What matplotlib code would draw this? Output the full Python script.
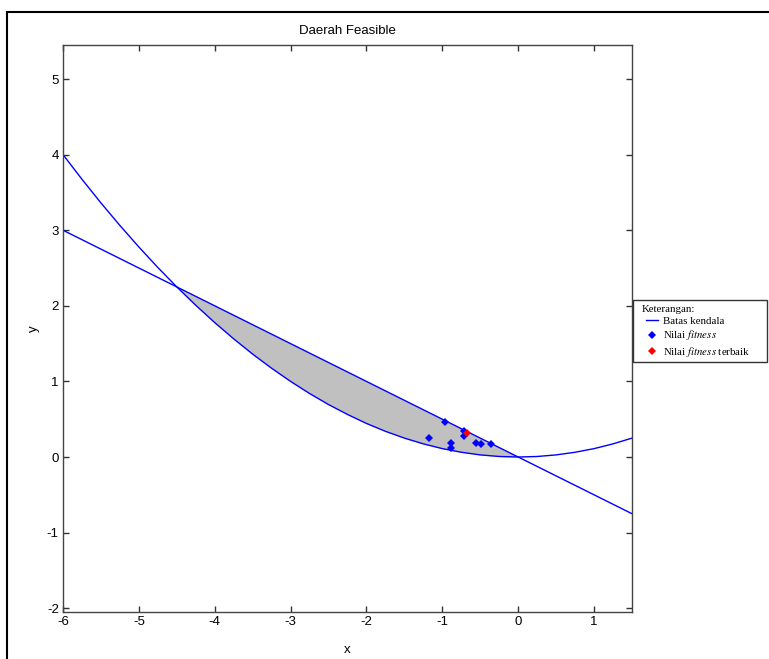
import numpy as np
import matplotlib
matplotlib.use("Agg")
import matplotlib.pyplot as plt
from matplotlib.patches import Rectangle

# Constraint boundary curve (parabola)
curve_x = [-6.0, -5.75, -5.5, -5.25, -5.0, -4.75, -4.5, -4.25, -4.0, -3.75, -3.5,
           -3.25, -3.0, -2.75, -2.5, -2.25, -2.0, -1.75, -1.5, -1.25, -1.0,
           -0.75, -0.5, -0.25, 0.0, 0.25, 0.5, 0.75, 1.0, 1.25, 1.5]
curve_y = [4.000, 3.674, 3.361, 3.063, 2.778, 2.507, 2.250, 2.007, 1.778, 1.563, 1.361,
           1.174, 1.000, 0.840, 0.694, 0.563, 0.444, 0.340, 0.250, 0.174, 0.111,
           0.063, 0.028, 0.007, 0.000, 0.007, 0.028, 0.063, 0.111, 0.174, 0.250]
# Constraint boundary line
line_x = [-6.0, 1.5]
line_y = [3.0, -0.75]

# Fitness points
pts_x = [-0.97, -1.17, -0.71, -0.72, -0.88, -0.89, -0.55, -0.49, -0.36]
pts_y = [0.46, 0.25, 0.34, 0.28, 0.18, 0.12, 0.18, 0.17, 0.17]
best_x = [-0.68]
best_y = [0.32]

title = "Daerah Feasible"
legend_title = "Keterangan:"
legend_labels = ['Batas kendala', 'Nilai $\\mathit{fitness}$', 'Nilai $\\mathit{fitness}$ terbaik']
xticks = [-6, -5, -4, -3, -2, -1, 0, 1]
yticks = [-2, -1, 0, 1, 2, 3, 4, 5]

plt.rcParams['font.family'] = ['Liberation Sans', 'DejaVu Sans']
plt.rcParams['mathtext.fontset'] = 'stix'
plt.rcParams['axes.unicode_minus'] = False

W, H = 769, 659
fig = plt.figure(figsize=(W / 100, H / 100), dpi=100)
ax = fig.add_axes([63 / W, (H - 612) / H, (632 - 63) / W, (612 - 45) / H])

cx = np.array(curve_x)
cy = np.array(curve_y)
ly = np.interp(cx, line_x, line_y)
ax.fill_between(cx, cy, ly, where=ly >= cy, interpolate=True,
                color='#c0c0c0', linewidth=0, zorder=1)

lb, = ax.plot(curve_x, curve_y, color='#0000ff', lw=1.0, zorder=2)
ax.plot(line_x, line_y, color='#0000ff', lw=1.0, zorder=2)
pb, = ax.plot(pts_x, pts_y, 'D', color='#0000ff', ms=3.8, mew=0, zorder=3, linestyle='none')
pr, = ax.plot(best_x, best_y, 'D', color='#ff0000', ms=4.2, mew=0, zorder=4, linestyle='none')

ax.set_xlim(-6, 1.5)
ax.set_ylim(-2.05, 5.45)
ax.set_xticks(xticks)
ax.set_yticks(yticks)
ax.tick_params(direction='in', length=4, width=1, top=True, right=True,
               labelsize=9.5, colors='#333333', labelcolor='black', pad=3)
for s in ax.spines.values():
    s.set_color('#444444')
    s.set_linewidth(1.0)

ax.set_title(title, fontsize=9.5, pad=8)
ax.set_xlabel('x', fontsize=9.5)
ax.set_ylabel('y', fontsize=9.5)
ax.yaxis.set_label_coords(-23 / (632 - 63), 0.5)
ax.xaxis.set_label_coords(0.5, -(644 - 612) / (612 - 45))

# Legend frame
fig.patches.append(Rectangle((633 / W, (H - 362) / H), (767 - 633) / W, (362 - 300) / H,
                             transform=fig.transFigure, facecolor='white',
                             edgecolor='#333333', linewidth=1.0, zorder=5))
fig.text(642 / W, (H - 310) / H, legend_title, family='Liberation Serif', size=7.8,
         ha='left', va='center', zorder=6)
leg = fig.legend([lb, pb, pr], legend_labels,
                 loc='upper left', bbox_to_anchor=(646 / W, (H - 316) / H),
                 prop={'family': 'Liberation Serif', 'size': 7.8},
                 frameon=False, handlelength=1.15, handletextpad=0.4,
                 labelspacing=0.25, borderpad=0, borderaxespad=0)
leg.set_zorder(7)

fig.patches.append(Rectangle((7 / W, -0.1), 1.2, (H - 12) / H + 0.1,
                             transform=fig.transFigure, fill=False,
                             edgecolor='black', linewidth=1.5))

fig.savefig('out.png', dpi=100)
